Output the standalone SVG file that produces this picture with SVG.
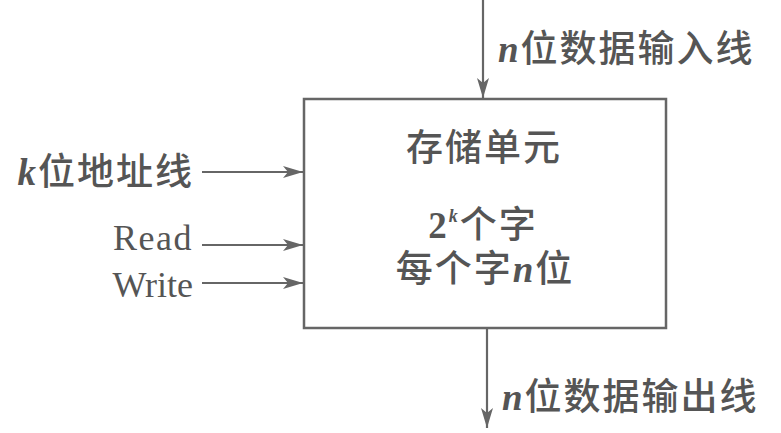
<svg xmlns="http://www.w3.org/2000/svg" width="781" height="433" viewBox="0 0 781 433">
<style>
.cjk{font-family:"Liberation Serif","Noto Sans CJK SC",serif;font-size:37px;fill:#555;letter-spacing:2px;font-weight:500}
.lat{font-family:"Liberation Serif",serif;font-size:36px;fill:#555}
.it{font-family:"Liberation Serif",serif;font-style:italic;font-weight:bold}
.bd{font-family:"Liberation Serif",serif;font-weight:bold}
.box{fill:none;stroke:#666;stroke-width:2.5}
.con{stroke:#666;stroke-width:2.2;fill:none;marker-end:url(#ah)}
</style>
<defs>
<marker id="ah" viewBox="0 0 20 12" refX="20" refY="6" markerWidth="20" markerHeight="12" markerUnits="userSpaceOnUse" orient="auto">
<path d="M0,0 L20,6 L0,12 L5,6 Z" fill="#666"/>
</marker>
</defs>
<rect width="781" height="433" fill="#ffffff"/>
<g id="connectors">
<line class="con" x1="483" y1="0" x2="483" y2="98"/>
<line class="con" x1="202" y1="172" x2="303" y2="172"/>
<line class="con" x1="202" y1="245" x2="303" y2="245"/>
<line class="con" x1="202" y1="283" x2="303" y2="283"/>
<line class="con" x1="487" y1="329" x2="487" y2="428"/>
</g>
<g id="memory">
<rect class="box" x="304" y="99" width="362" height="229"/>
<text class="cjk" x="484" y="161" text-anchor="middle">存储单元</text>
<text class="cjk" x="483" y="238" text-anchor="middle"><tspan class="bd">2</tspan><tspan class="it" font-size="18" dy="-16">k</tspan><tspan dy="16">个字</tspan></text>
<text class="cjk" x="485" y="282" text-anchor="middle">每个字<tspan class="it">n</tspan>位</text>
</g>
<g id="data-in">
<text class="cjk" x="498" y="62"><tspan class="it">n</tspan>位数据输入线</text>
</g>
<g id="address">
<text class="cjk" x="194" y="185" text-anchor="end"><tspan class="it">k</tspan>位地址线</text>
</g>
<g id="read">
<text class="lat" x="193" y="250" text-anchor="end" letter-spacing="1.5">Read</text>
</g>
<g id="write">
<text class="lat" x="193" y="297" text-anchor="end">Write</text>
</g>
<g id="data-out">
<text class="cjk" x="502" y="410"><tspan class="it">n</tspan>位数据输出线</text>
</g>
</svg>
